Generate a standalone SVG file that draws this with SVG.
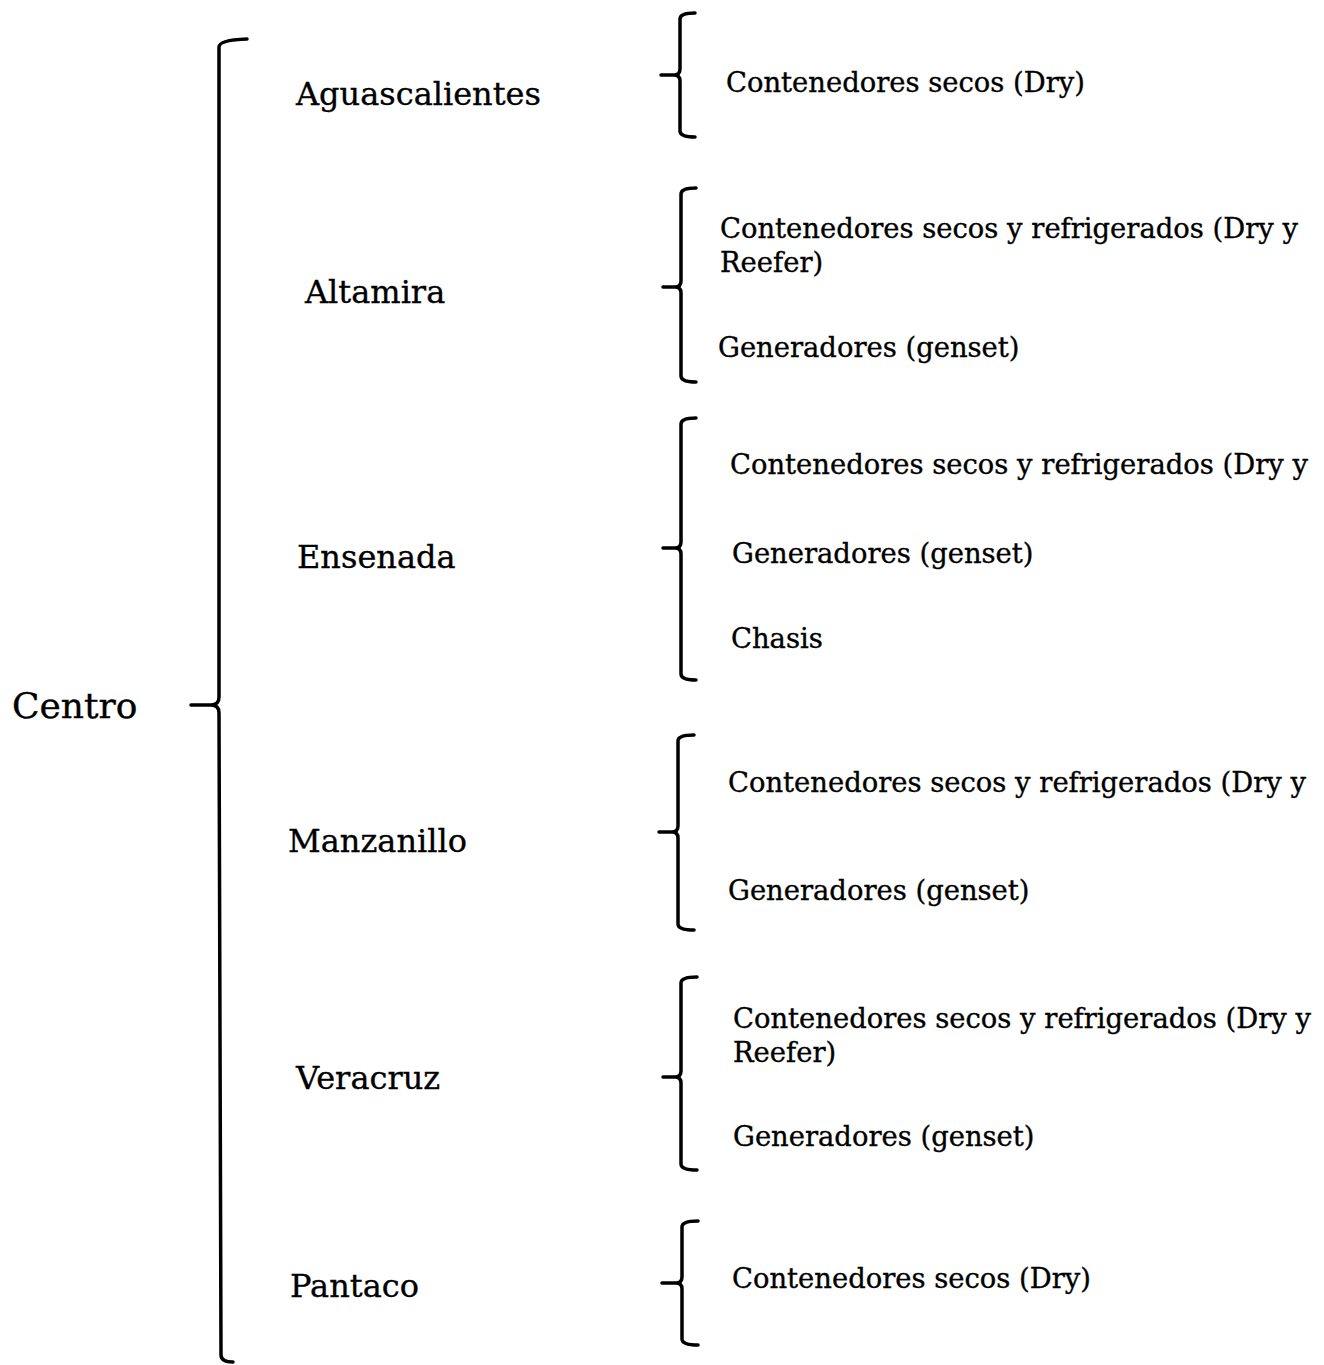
<svg xmlns="http://www.w3.org/2000/svg" width="1324" height="1365" viewBox="0 0 1324 1365">
  <style>
    .brace { fill: none; stroke: #000; stroke-width: 3.5; stroke-linecap: round; stroke-linejoin: round; }
    text { font-family: "DejaVu Serif", "Liberation Serif", serif; fill: #000; stroke: #000; stroke-width: 0.35; }
    .root { font-size: 36px; }
    .site { font-size: 32px; }
    .item { font-size: 27.4px; }
  </style>
  <rect width="1324" height="1365" fill="#fff"/>

  <!-- braces joining each level -->
  <g id="connectors">
    <!-- Centro -> sites -->
    <path class="brace" d="M247,39 Q219,40 219,47 L219,697 Q219,705 211,705 L191,705 M211,705 Q219,705 219,713 L221,1355 Q221,1362 233,1362"/>
    <!-- Aguascalientes -->
    <path class="brace" d="M695,13 Q680,13 680,19 L680,69 Q680,75 674,75 L661,75 M674,75 Q680,75 680,81 L680,131 Q680,137 695,137"/>
    <!-- Altamira -->
    <path class="brace" d="M696,188 Q681,188 681,194 L681,281 Q681,287 675,287 L663,287 M675,287 Q681,287 681,293 L681,376 Q681,382 696,382"/>
    <!-- Ensenada -->
    <path class="brace" d="M696,418 Q681,418 681,424 L681,542 Q681,548 675,548 L663,548 M675,548 Q681,548 681,554 L681,674 Q681,680 696,680"/>
    <!-- Manzanillo -->
    <path class="brace" d="M694,735 Q678,735 678,741 L678,826 Q678,832 672,832 L659,832 M672,832 Q678,832 678,838 L678,924 Q678,930 694,930"/>
    <!-- Veracruz -->
    <path class="brace" d="M697,977 Q681,977 681,983 L681,1071 Q681,1077 675,1077 L663,1077 M675,1077 Q681,1077 681,1083 L681,1164 Q681,1170 697,1170"/>
    <!-- Pantaco -->
    <path class="brace" d="M698,1221 Q682,1221 682,1227 L682,1277 Q682,1283 676,1283 L662,1283 M676,1283 Q682,1283 682,1289 L682,1339 Q682,1345 698,1345"/>
  </g>

  <g id="centro"><text class="root" x="12" y="718">Centro</text></g>

  <g id="aguascalientes">
    <text class="site" x="296" y="105">Aguascalientes</text>
    <text class="item" x="726" y="92">Contenedores secos (Dry)</text>
  </g>

  <g id="altamira">
    <text class="site" x="305" y="303">Altamira</text>
    <text class="item" x="720" y="238">Contenedores secos y refrigerados (Dry y</text>
    <text class="item" x="720" y="272">Reefer)</text>
    <text class="item" x="718" y="357">Generadores (genset)</text>
  </g>

  <g id="ensenada">
    <text class="site" x="297" y="568">Ensenada</text>
    <text class="item" x="730" y="474">Contenedores secos y refrigerados (Dry y</text>
    <text class="item" x="732" y="563">Generadores (genset)</text>
    <text class="item" x="731" y="648">Chasis</text>
  </g>

  <g id="manzanillo">
    <text class="site" x="288" y="852">Manzanillo</text>
    <text class="item" x="728" y="792">Contenedores secos y refrigerados (Dry y</text>
    <text class="item" x="728" y="900">Generadores (genset)</text>
  </g>

  <g id="veracruz">
    <text class="site" x="296" y="1089">Veracruz</text>
    <text class="item" x="733" y="1028">Contenedores secos y refrigerados (Dry y</text>
    <text class="item" x="733" y="1062">Reefer)</text>
    <text class="item" x="733" y="1146">Generadores (genset)</text>
  </g>

  <g id="pantaco">
    <text class="site" x="290" y="1297">Pantaco</text>
    <text class="item" x="732" y="1288">Contenedores secos (Dry)</text>
  </g>
</svg>
